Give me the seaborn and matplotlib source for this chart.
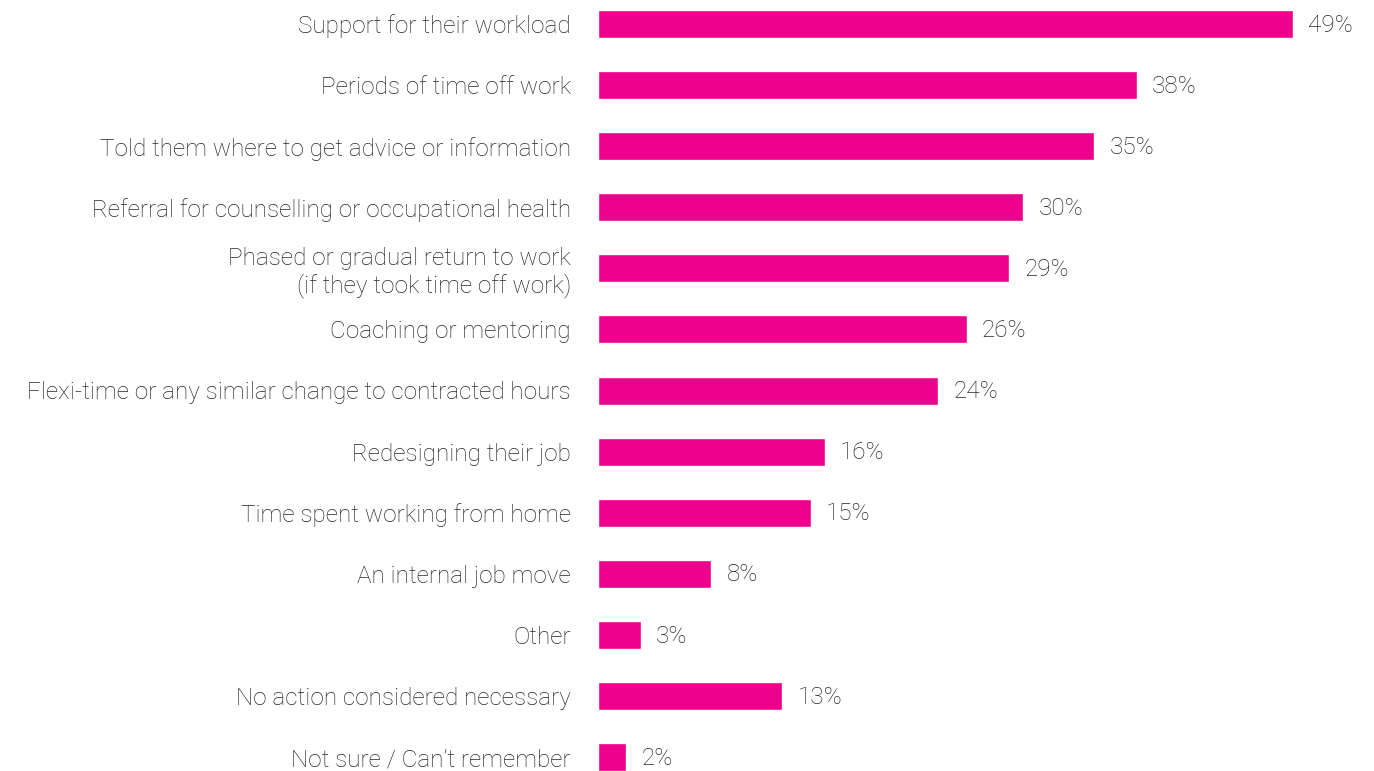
import matplotlib
matplotlib.use("Agg")
import matplotlib.pyplot as plt
import seaborn as sns
import pandas as pd

categories = [
    "Support for their workload",
    "Periods of time off work",
    "Told them where to get advice or information",
    "Referral for counselling or occupational health",
    "Phased or gradual return to work\n(if they took time off work)",
    "Coaching or mentoring",
    "Flexi-time or any similar change to contracted hours",
    "Redesigning their job",
    "Time spent working from home",
    "An internal job move",
    "Other",
    "No action considered necessary",
    "Not sure / Can\u2019t remember",
]
values = [49, 38, 35, 30, 29, 26, 24, 16, 15, 8, 3, 13, 2]
value_labels = [f"{v}%" for v in values]

sns.set_theme(style="white")
plt.rcParams["font.family"] = ["Roboto", "DejaVu Sans"]

df = pd.DataFrame({"category": categories, "value": values})

W, H = 1374, 771
fig = plt.figure(figsize=(W / 100, H / 100), dpi=100)
left_px = 598
ax = fig.add_axes([left_px / W, 0, 1 - left_px / W, 1])

first_c, last_c = 24, 757
unit = (last_c - first_c) / 12
sns.barplot(data=df, y="category", x="value", orient="h", color="#EC008C",
            saturation=1, width=28 / unit, ax=ax)

px_per_unit = 14.18
ax.set_xlim(0, (W - left_px) / px_per_unit)
ax.set_ylim(12 + (H - last_c) / unit, -first_c / unit)

for s in ax.spines.values():
    s.set_visible(False)
ax.set_xticks([])
ax.set_xlabel("")
ax.set_ylabel("")
ax.tick_params(axis="y", length=0, pad=27 * 0.72)
for lbl in ax.get_yticklabels():
    lbl.set_fontsize(17.5)
    lbl.set_fontweight("light")
    lbl.set_color("#262626")
    lbl.set_linespacing(1.15)

for i, (v, t) in enumerate(zip(values, value_labels)):
    ax.text(v + 15 / px_per_unit, i + 0.02, t, va="center", ha="left",
            fontsize=17.5, fontweight="light", color="#262626")

fig.savefig("out.png", dpi=100)
